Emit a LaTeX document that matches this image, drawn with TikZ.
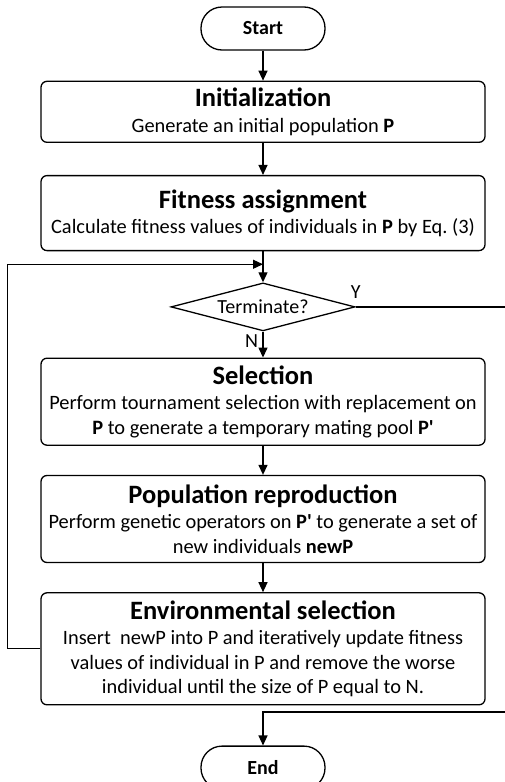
\documentclass[tikz,border=0pt]{standalone}
\usepackage{fontspec}
\setmainfont{Carlito}
\usepackage{tikz}
\usetikzlibrary{positioning, arrows.meta, shapes.geometric}
\usetikzlibrary{calc}

\newcommand{\steptitle}[1]{{\fontsize{26.5}{30}\selectfont\bfseries #1}\\[1pt]}

\begin{document}
\begin{tikzpicture}[x=1pt, y=1pt, node distance=30pt, line width=1.3pt,
    font=\fontsize{20}{24}\selectfont,
    >={Triangle[length=10pt, width=9pt]},
    term/.style={draw, rounded corners=21pt, minimum width=124pt, minimum height=43pt,
      font=\fontsize{20}{24}\selectfont\bfseries},
    proc/.style={draw, rounded corners=6pt, minimum width=444pt, align=center,
      font=\fontsize{20.4}{24.4}\selectfont},
    cond/.style={draw, diamond, aspect=3.8, inner sep=0pt, minimum width=184pt,
      minimum height=48pt}]
  \useasboundingbox (0,0) rectangle (504,-782);

  \node[term] (start) at (263,-28.5) {Start};
  \node[proc, minimum height=61pt] (init) [below=30pt of start]
    {\steptitle{Initialization}Generate an initial population \textbf{P}};
  \node[proc, minimum height=75pt] (fit) [below=32pt of init]
    {\steptitle{Fitness assignment}Calculate fitness values of individuals in \textbf{P} by Eq.~(3)};
  \node[cond] (term) [below=31pt of fit] {Terminate?};
  \node[proc, minimum height=87pt] (sel) [below=26pt of term]
    {\steptitle{Selection}Perform tournament selection with replacement on\\
     \textbf{P} to generate a temporary mating pool \textbf{P\textquotesingle}};
  \node[proc, minimum height=87pt] (rep) [below=29pt of sel]
    {\steptitle{Population reproduction}Perform genetic operators on \textbf{P\textquotesingle} to generate a set of\\
     new individuals \textbf{newP}};
  \node[proc, minimum height=112pt] (env) [below=29pt of rep]
    {\steptitle{Environmental selection}Insert~ newP into P and iteratively update fitness\\
     values of individual in P and remove the worse\\
     individual until the size of P equal to N.};
  \node[term] (end) [below=40pt of env] {End};

  \coordinate (join) at ($(fit.south)+(0,-13)$);
  \coordinate (ycorner) at (520,-712);

  \path[->]
    (start) edge (init)
    (init) edge (fit)
    (fit) edge (term)
    (term) edge node[left=1pt, pos=0.38] {N} (sel)
    (sel) edge (rep)
    (rep) edge (env);

  % back to the test
  \draw[->] (env.west) -- ++(-33,0) |- (join);
  % exit branch
  \draw[->] (term.east) node[above=4pt] {Y} -| (ycorner) -| (end.north);
\end{tikzpicture}
\end{document}
